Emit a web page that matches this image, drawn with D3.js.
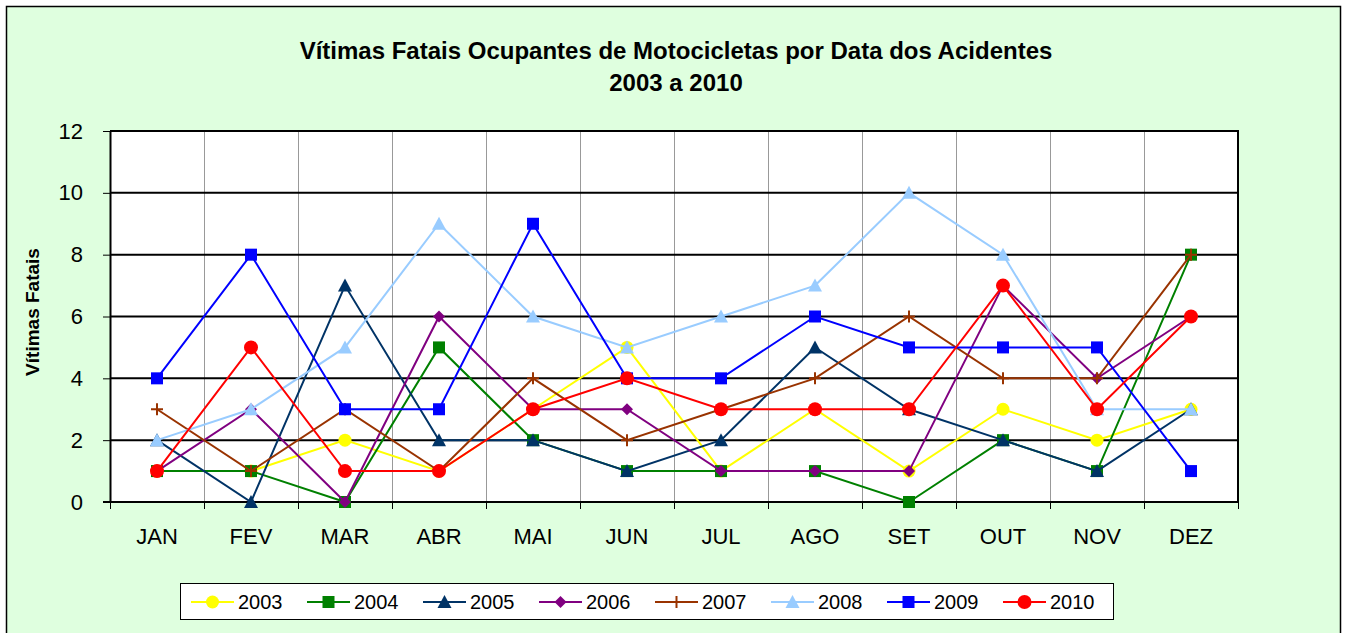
<!DOCTYPE html>
<html>
<head>
<meta charset="utf-8">
<script src="https://cdn.jsdelivr.net/npm/d3@7"></script>
<style>
  body { margin: 0; background: #ffffff; }
  svg { display: block; font-family: Arial, "Liberation Sans", sans-serif; }
</style>
</head>
<body>
<svg id="chart" width="1345" height="633"></svg>
<script>
let months = ["JAN", "FEV", "MAR", "ABR", "MAI", "JUN", "JUL", "AGO", "SET", "OUT", "NOV", "DEZ"]
let years = ["2003", "2004", "2005", "2006", "2007", "2008", "2009", "2010"]
let yTicks = [0, 2, 4, 6, 8, 10, 12]

let v2003 = [1, 1, 2, 1, 3, 5, 1, 3, 1, 3, 2, 3]
let v2004 = [1, 1, 0, 5, 2, 1, 1, 1, 0, 2, 1, 8]
let v2005 = [2, 0, 7, 2, 2, 1, 2, 5, 3, 2, 1, 3]
let v2006 = [1, 3, 0, 6, 3, 3, 1, 1, 1, 7, 4, 6]
let v2007 = [3, 1, 3, 1, 4, 2, 3, 4, 6, 4, 4, 8]
let v2008 = [2, 3, 5, 9, 6, 5, 6, 7, 10, 8, 3, 3]
let v2009 = [4, 8, 3, 3, 9, 4, 4, 6, 5, 5, 5, 1]
let v2010 = [1, 5, 1, 1, 3, 4, 3, 3, 3, 7, 3, 6]

let seriesValues = [v2003, v2004, v2005, v2006, v2007, v2008, v2009, v2010]

let yearColors = {
    "2003": "#ffff00",
    "2004": "#008000",
    "2005": "#003366",
    "2006": "#800080",
    "2007": "#993300",
    "2008": "#99ccff",
    "2009": "#0000ff",
    "2010": "#ff0000"}

let yearSymbols = {
    "2003": "circle",
    "2004": "square",
    "2005": "triangle",
    "2006": "diamond",
    "2007": "plus",
    "2008": "triangle",
    "2009": "square",
    "2010": "circle"}

let series = years.map((y, i) => ({year: y, values: seriesValues[i]}))

let svg = d3.select("#chart")

// chart area background + border
svg.append("rect")
    .attr("x", 6.5).attr("y", 6.5)
    .attr("width", 1334).attr("height", 640)
    .attr("fill", "#dfffdf")
    .attr("stroke", "#000")
    .attr("stroke-width", 1.5)

let plotLeft = 110, plotRight = 1238, plotTop = 131, plotBottom = 502

let xScale = d3.scaleBand()
    .domain(months)
    .range([plotLeft, plotRight])

let yScale = d3.scaleLinear()
    .domain([0, 12])
    .range([plotBottom, plotTop])

// plot area
svg.append("rect")
    .attr("x", plotLeft).attr("y", plotTop)
    .attr("width", plotRight - plotLeft).attr("height", plotBottom - plotTop)
    .attr("fill", "#fff")

// vertical gridlines at category boundaries
svg.append("g")
    .selectAll("line")
    .data(months.slice(1))
    .join("line")
    .attr("x1", d => xScale(d) + 0.5)
    .attr("x2", d => xScale(d) + 0.5)
    .attr("y1", plotTop)
    .attr("y2", plotBottom)
    .attr("stroke", "#999")
    .attr("stroke-width", 1)

// horizontal gridlines
svg.append("g")
    .selectAll("line")
    .data(yTicks.slice(1))
    .join("line")
    .attr("x1", plotLeft)
    .attr("x2", plotRight)
    .attr("y1", d => yScale(d))
    .attr("y2", d => yScale(d))
    .attr("stroke", "#000")
    .attr("stroke-width", 2)

// right border
svg.append("line")
    .attr("x1", plotRight).attr("x2", plotRight)
    .attr("y1", plotTop - 1).attr("y2", plotBottom + 1)
    .attr("stroke", "#000").attr("stroke-width", 2)

// y axis
let yAxis = svg.append("g")
    .attr("transform", `translate(${plotLeft},0)`)
    .call(d3.axisLeft(yScale).tickValues(yTicks).tickSize(7).tickSizeOuter(0).tickPadding(20))
yAxis.select(".domain").attr("stroke", "#000").attr("stroke-width", 2)
yAxis.selectAll(".tick line").attr("stroke", "#000").attr("stroke-width", 1)
yAxis.selectAll("text")
    .style("font-size", "22px")
    .style("font-family", "Arial, 'Liberation Sans', sans-serif")
    .attr("fill", "#000")

// x axis: ticks at category boundaries
let xAxis = svg.append("g")
    .attr("transform", `translate(0,${plotBottom})`)
xAxis.append("line")
    .attr("x1", plotLeft - 7).attr("x2", plotRight)
    .attr("y1", 0).attr("y2", 0)
    .attr("stroke", "#000").attr("stroke-width", 2)
xAxis.selectAll(".xtick")
    .data(months.concat(["end"]))
    .join("line")
    .attr("class", "xtick")
    .attr("x1", (d, i) => (i < months.length ? xScale(d) : plotRight) + 0.5)
    .attr("x2", (d, i) => (i < months.length ? xScale(d) : plotRight) + 0.5)
    .attr("y1", 0).attr("y2", 7)
    .attr("stroke", "#000").attr("stroke-width", 1)
xAxis.selectAll(".xlabel")
    .data(months)
    .join("text")
    .attr("class", "xlabel")
    .attr("x", d => xScale(d) + xScale.bandwidth() / 2)
    .attr("y", 42)
    .attr("text-anchor", "middle")
    .style("font-size", "22px")
    .text(d => d)

// y axis title
svg.append("text")
    .attr("transform", "translate(39,312) rotate(-90)")
    .attr("text-anchor", "middle")
    .style("font-size", "19px")
    .style("font-weight", "bold")
    .text("Vítimas Fatais")

// title
svg.append("text")
    .attr("x", 676).attr("y", 59)
    .attr("text-anchor", "middle")
    .style("font-size", "24px")
    .style("font-weight", "bold")
    .text("Vítimas Fatais Ocupantes de Motocicletas por Data dos Acidentes")
svg.append("text")
    .attr("x", 676).attr("y", 91)
    .attr("text-anchor", "middle")
    .style("font-size", "24px")
    .style("font-weight", "bold")
    .text("2003 a 2010")

// symbol drawing helper
function drawMarker(g, year, x, y) {
    let c = yearColors[year]
    let s = yearSymbols[year]
    if (s === "circle") {
        let r = year === "2010" ? 7 : 6.5
        g.append("circle").attr("cx", x).attr("cy", y).attr("r", r).attr("fill", c)
    } else if (s === "square") {
        g.append("rect").attr("x", x - 6).attr("y", y - 6).attr("width", 12).attr("height", 12).attr("fill", c)
    } else if (s === "triangle") {
        g.append("path").attr("d", `M${x},${y - 7}L${x + 7},${y + 6}L${x - 7},${y + 6}Z`).attr("fill", c)
    } else if (s === "diamond") {
        g.append("path").attr("d", `M${x},${y - 6}L${x + 6},${y}L${x},${y + 6}L${x - 6},${y}Z`).attr("fill", c)
    } else if (s === "plus") {
        g.append("path").attr("d", `M${x - 6},${y}H${x + 6}M${x},${y - 6}V${y + 6}`)
            .attr("stroke", c).attr("stroke-width", 2).attr("fill", "none")
    }
}

let line = d3.line()
    .x((d, i) => xScale(months[i]) + xScale.bandwidth() / 2)
    .y(d => yScale(d))

// series
series.forEach(s => {
    let g = svg.append("g").attr("class", "series")
    g.append("path")
        .datum(s.values)
        .attr("d", line)
        .attr("fill", "none")
        .attr("stroke", yearColors[s.year])
        .attr("stroke-width", 2)
    s.values.forEach((v, i) => {
        drawMarker(g, s.year, xScale(months[i]) + xScale.bandwidth() / 2, yScale(v))
    })
})

// legend
let legend = svg.append("g")
legend.append("rect")
    .attr("x", 180.5).attr("y", 583.5)
    .attr("width", 933).attr("height", 36)
    .attr("fill", "#fff")
    .attr("stroke", "#000")
    .attr("stroke-width", 1)

let legendX = d3.scalePoint()
    .domain(years)
    .range([191, 1003])

years.forEach(y => {
    let x0 = legendX(y)
    let gy = 602
    legend.append("line")
        .attr("x1", x0).attr("x2", x0 + 43)
        .attr("y1", gy).attr("y2", gy)
        .attr("stroke", yearColors[y]).attr("stroke-width", 2)
    drawMarker(legend, y, x0 + 21.5, gy)
    legend.append("text")
        .attr("x", x0 + 47).attr("y", gy + 7)
        .style("font-size", "20px")
        .text(y)
})
</script>
</body>
</html>
